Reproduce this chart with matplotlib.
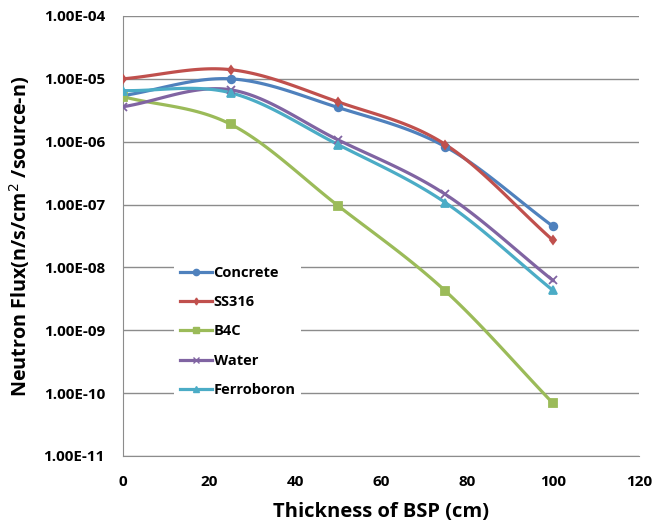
import numpy as np
import matplotlib
matplotlib.use("Agg")
import matplotlib.pyplot as plt
from matplotlib.lines import Line2D

thickness = [0, 25, 50, 75, 100]
concrete = [5.4e-6, 1.0e-5, 3.5e-6, 8.3e-7, 4.5e-8]
ss316 = [1.0e-5, 1.4e-5, 4.3e-6, 9.0e-7, 2.7e-8]
b4c = [5.2e-6, 1.9e-6, 9.6e-8, 4.2e-9, 6.9e-11]
water = [3.6e-6, 6.7e-6, 1.07e-6, 1.45e-7, 6.2e-9]
ferroboron = [6.5e-6, 6.0e-6, 9.0e-7, 1.07e-7, 4.3e-9]

names = ["Concrete", "SS316", "B4C", "Water", "Ferroboron"]
series = [concrete, ss316, b4c, water, ferroboron]
colors = ["#4F81BD", "#C0504D", "#9BBB59", "#8064A2", "#4BACC6"]
markers = ["o", "d", "s", "x", "^"]
msizes = [5.5, 4.5, 5.5, 5.5, 5.5]
yticks = [1e-11, 1e-10, 1e-9, 1e-8, 1e-7, 1e-6, 1e-5, 1e-4]
ytick_labels = ["1.00E-11", "1.00E-10", "1.00E-09", "1.00E-08", "1.00E-07",
                "1.00E-06", "1.00E-05", "1.00E-04"]
xticks = [0, 20, 40, 60, 80, 100, 120]

plt.rcParams['font.family'] = ['Open Sans', 'DejaVu Sans']


def smooth(x, y, n=30):
    # Catmull-Rom style smoothing in (x, log y) space for drawing
    x = np.asarray(x, float)
    ly = np.log10(np.asarray(y, float))
    px = np.concatenate([[2 * x[0] - x[1]], x, [2 * x[-1] - x[-2]]])
    py = np.concatenate([[2 * ly[0] - ly[1]], ly, [2 * ly[-1] - ly[-2]]])
    xs, ys = [], []
    for i in range(1, len(px) - 2):
        p0, p1, p2, p3 = (np.array([px[j], py[j]]) for j in range(i - 1, i + 3))
        c1 = p1 + (p2 - p0) / 6.0
        c2 = p2 - (p3 - p1) / 6.0
        t = np.linspace(0, 1, n)[:, None]
        b = ((1 - t) ** 3) * p1 + 3 * ((1 - t) ** 2) * t * c1 + 3 * (1 - t) * t ** 2 * c2 + t ** 3 * p2
        xs.extend(b[:, 0]); ys.extend(b[:, 1])
    return np.array(xs), 10 ** np.array(ys)


fig = plt.figure(figsize=(6.7, 5.24), dpi=100)
ax = fig.add_axes([0.1836, 0.1298, 0.9537 - 0.1836, 0.9695 - 0.1298])
ax.set_yscale("log")
ax.set_xlim(0, 120)
ax.set_ylim(1e-11, 1e-4)

handles = []
for name, s, c, m, ms in zip(names, series, colors, markers, msizes):
    sx, sy = smooth(thickness, s)
    ax.plot(sx, sy, color=c, lw=2.3, zorder=3)
    ax.plot(thickness, s, linestyle="none", marker=m, color=c, ms=ms, mew=1.3, zorder=4)
    handles.append(Line2D([0], [0], color=c, lw=2.3, marker=m, ms=ms - 1, mew=1.0))

ax.set_yticks(yticks)
ax.set_yticklabels(ytick_labels)
ax.yaxis.set_minor_locator(matplotlib.ticker.NullLocator())
ax.set_xticks(xticks)
ax.tick_params(length=0, labelsize=11)
ax.tick_params(axis="y", pad=13)
ax.tick_params(axis="x", pad=14)
for lbl in ax.get_xticklabels() + ax.get_yticklabels():
    lbl.set_fontweight("bold")
ax.grid(axis="y", color="#8c8c8c", lw=1)
ax.set_axisbelow(True)
for sp in ["top", "right"]:
    ax.spines[sp].set_visible(False)
ax.spines["left"].set_color("#8c8c8c")
ax.spines["bottom"].set_color("#8c8c8c")

ax.set_xlabel("Thickness of BSP (cm)", fontsize=14.5, fontweight="bold", labelpad=9)
ax.set_ylabel("Neutron Flux(n/s/cm$^{2}$ /source-n)", fontsize=14.2, fontweight="bold", labelpad=8)

leg = ax.legend(handles, names, loc="upper left", bbox_to_anchor=(0.085, 0.462),
                frameon=True, facecolor="white", edgecolor="none", framealpha=1,
                handlelength=2.2, handletextpad=0.1, labelspacing=1.05,
                prop={"weight": "bold", "size": 10.5}, borderpad=0.4)
leg.get_frame().set_boxstyle("square", pad=0)

fig.savefig("out.png", dpi=100)
